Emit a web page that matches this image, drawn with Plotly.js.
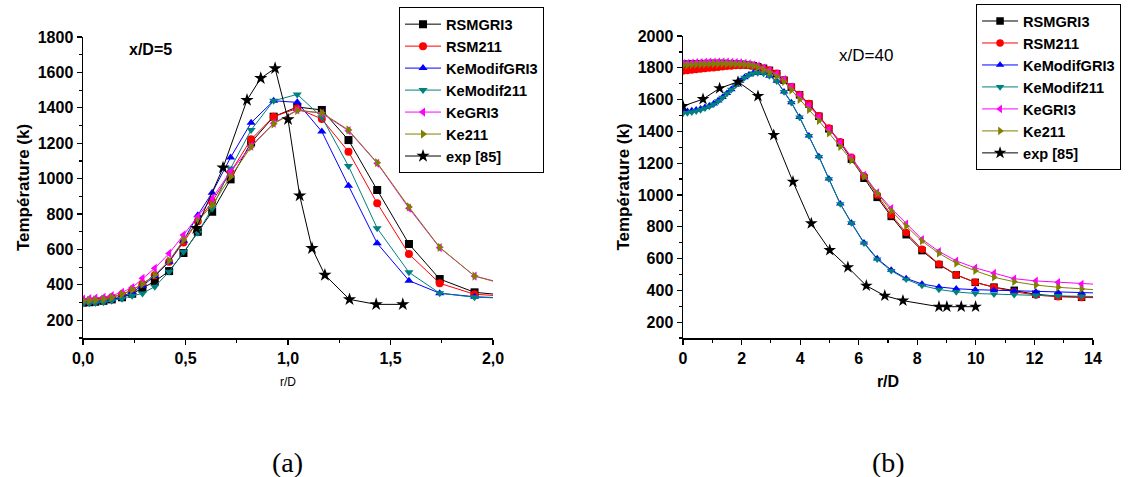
<!DOCTYPE html>
<html><head><meta charset="utf-8">
<script src="https://cdn.plot.ly/plotly-3.0.1.min.js"></script>
<style>body{margin:0;background:#fff}#chart{width:1131px;height:477px}</style>
</head><body><div id="chart"></div>
<script>
// ---------- data ----------
const seriesNames = ['RSMGRI3', 'RSM211', 'KeModifGRI3', 'KeModif211', 'KeGRI3', 'Ke211', 'exp [85]'];

// Panel (a): x/D = 5
const rA = [0, 0.03, 0.06, 0.10, 0.14, 0.19, 0.24, 0.29, 0.35, 0.42, 0.49, 0.56, 0.63, 0.72, 0.82, 0.93, 1.045, 1.165, 1.295, 1.435, 1.59, 1.74, 1.91, 2.08];
const a_RSMGRI3     = [300,302,305,310,318,330,350,380,420,478,580,700,813,996,1205,1350,1405,1388,1218,936,631,433,358,340];
const a_RSM211      = [305,307,310,317,328,345,370,405,455,530,640,760,870,1035,1222,1350,1397,1337,1152,861,574,409,347,335];
const a_KeModifGRI3 = [300,302,305,310,318,333,360,395,450,530,650,794,921,1120,1316,1440,1431,1266,960,635,424,353,333,325];
const a_KeModif211  = [295,296,298,302,310,322,338,352,390,474,587,695,832,1058,1275,1440,1476,1347,1071,720,471,353,330,325];
const a_KeGRI3      = [320,322,325,330,340,358,385,437,494,578,682,785,890,1040,1184,1313,1388,1369,1271,1087,833,610,450,400];
const a_Ke211       = [310,312,315,320,330,348,372,405,456,537,653,760,851,1011,1180,1310,1385,1372,1275,1090,840,612,450,395];
const rExpA = [0.553, 0.683, 0.80, 0.867, 0.937, 1.0, 1.057, 1.117, 1.18, 1.30, 1.43, 1.56];
const a_exp = [720, 1062, 1444, 1567, 1623, 1335, 904, 607, 456, 318, 290, 290];

// Panel (b): x/D = 40
const rB = [0, 0.15, 0.3, 0.45, 0.6, 0.75, 0.9, 1.05, 1.2, 1.35, 1.5, 1.65, 1.8, 1.95, 2.1, 2.25, 2.4, 2.55, 2.75, 2.95, 3.2, 3.45, 3.7, 3.98, 4.3, 4.64, 4.98, 5.37, 5.75, 6.18, 6.63, 7.11, 7.62, 8.16, 8.74, 9.33, 9.98, 10.62, 11.31, 12.05, 12.81, 13.61, 14.4];
const b_RSMGRI3     = [1822,1823,1824,1825,1826,1826,1827,1827,1827,1827,1826,1825,1824,1822,1820,1817,1813,1807,1797,1784,1763,1722,1678,1630,1572,1495,1416,1328,1225,1105,985,865,750,650,562,497,450,420,400,375,363,356,353];
const b_RSM211      = [1780,1783,1786,1789,1792,1795,1798,1801,1804,1807,1810,1812,1814,1815,1816,1815,1812,1806,1796,1784,1765,1723,1680,1632,1576,1498,1421,1335,1237,1119,1000,874,763,658,565,498,450,419,391,370,359,355,353];
const b_KeModifGRI3 = [1525,1527,1531,1536,1543,1552,1562,1575,1594,1615,1640,1665,1692,1717,1740,1757,1767,1770,1766,1750,1717,1650,1582,1490,1373,1242,1102,945,825,700,600,528,475,440,421,410,404,400,396,391,387,384,382];
const b_KeModif211  = [1513,1516,1521,1527,1535,1545,1556,1570,1590,1612,1637,1662,1690,1715,1738,1755,1765,1768,1764,1748,1715,1648,1580,1488,1371,1240,1100,943,823,696,595,523,469,430,405,390,380,375,372,368,365,362,360];
const b_KeGRI3      = [1828,1830,1832,1834,1835,1836,1837,1838,1838,1838,1837,1836,1835,1833,1830,1826,1820,1812,1800,1784,1762,1728,1682,1627,1562,1490,1412,1330,1235,1125,1015,916,819,721,645,585,541,508,473,459,450,440,435];
const b_Ke211       = [1815,1817,1819,1821,1822,1823,1824,1825,1825,1825,1825,1824,1823,1822,1820,1817,1812,1803,1788,1770,1745,1712,1660,1600,1536,1467,1388,1303,1218,1117,1010,900,804,710,633,570,523,482,454,433,419,408,400];
const rExpB = [0, 0.683, 1.25, 1.878, 2.56, 3.10, 3.755, 4.38, 5.01, 5.63, 6.26, 6.89, 7.51, 8.74, 9.01, 9.50, 9.99];
const b_exp = [1559, 1603, 1671, 1712, 1622, 1377, 1083, 821, 653, 545, 429, 366, 335, 297, 297, 297, 297];

// ---------- styles ----------
const colors  = ['#000000', '#ff0000', '#0000ff', '#008080', '#ff00ff', '#808000', '#000000'];
const symbols = ['square', 'circle', 'triangle-up', 'triangle-down', 'triangle-left', 'triangle-right', 'star'];

const FONT = 'Arial, "Liberation Sans", sans-serif';
const panelA = [[rA, a_RSMGRI3], [rA, a_RSM211], [rA, a_KeModifGRI3], [rA, a_KeModif211], [rA, a_KeGRI3], [rA, a_Ke211], [rExpA, a_exp]];
const panelB = [[rB, b_RSMGRI3], [rB, b_RSM211], [rB, b_KeModifGRI3], [rB, b_KeModif211], [rB, b_KeGRI3], [rB, b_Ke211], [rExpB, b_exp]];

const traces = [];
function addPanel(panel, xa, ya, leg, msize) {
  panel.forEach((p, i) => {
    traces.push({
      type: 'scatter', mode: 'lines+markers', x: p[0], y: p[1],
      name: seriesNames[i], xaxis: xa, yaxis: ya, legend: leg,
      line: {color: colors[i], width: 1},
      marker: {symbol: symbols[i], color: colors[i], size: i === 6 ? msize + 2 : msize,
               line: {width: 0}}
    });
  });
}
addPanel(panelA, 'x', 'y', 'legend', 8);
addPanel(panelB, 'x2', 'y2', 'legend2', 7.5);

const tickFont = {family: FONT, size: 16, color: '#000', weight: 'bold'};
function axisBase() {
  return {showline: true, linecolor: '#000', linewidth: 1.5, ticks: 'outside', ticklen: 5,
          tickwidth: 1.2, tickcolor: '#000', showgrid: false, zeroline: false,
          tickfont: tickFont, fixedrange: true};
}
const legendBase = {bordercolor: '#000', borderwidth: 1, bgcolor: '#fff',
  font: {family: FONT, size: 14.6, color: '#000', weight: 'bold'}, xanchor: 'left', yanchor: 'top',
  itemwidth: 36, tracegroupgap: 0};

const yTitleFont = {family: FONT, size: 17, color: '#000', weight: 'bold'};
const layout = {
  width: 1131, height: 477, margin: {l: 0, r: 0, t: 0, b: 0},
  paper_bgcolor: '#fff', plot_bgcolor: '#fff', separators: ', ', showlegend: true,
  xaxis: Object.assign(axisBase(), {domain: [0.0734, 0.4359], range: [0, 2], dtick: 0.5, tickformat: '.1f',
    minor: {ticks: 'outside', ticklen: 3, dtick: 0.25, tickcolor: '#000'},
    title: {text: 'r/D', font: {family: FONT, size: 12, color: '#000'}, standoff: 12}}),
  yaxis: Object.assign(axisBase(), {domain: [0.2914, 0.9224], range: [100, 1800], dtick: 200,
    minor: {ticks: 'outside', ticklen: 3, dtick: 100, tickcolor: '#000'},
    title: {text: 'Température (k)', font: yTitleFont, standoff: 4}}),
  xaxis2: Object.assign(axisBase(), {domain: [0.6039, 0.9664], range: [0, 14], dtick: 2, anchor: 'y2',
    minor: {ticks: 'outside', ticklen: 3, dtick: 1, tickcolor: '#000'},
    title: {text: 'r/D', font: {family: FONT, size: 16, color: '#000', weight: 'bold'}, standoff: 10}}),
  yaxis2: Object.assign(axisBase(), {domain: [0.2914, 0.9245], range: [100, 2000], dtick: 200, anchor: 'x2',
    minor: {ticks: 'outside', ticklen: 3, dtick: 100, tickcolor: '#000'},
    title: {text: 'Température (k)', font: yTitleFont, standoff: 4}}),
  legend: Object.assign({}, legendBase, {x: 0.3528, y: 0.985}),
  legend2: Object.assign({}, legendBase, {x: 0.863, y: 0.9916}),
  annotations: [
    {text: 'x/D=5', xref: 'paper', yref: 'paper', x: 150 / 1131, y: 1 - 49 / 477, xanchor: 'center', yanchor: 'middle',
     showarrow: false, font: {family: FONT, size: 16, color: '#000', weight: 'bold'}},
    {text: 'x/D=40', xref: 'paper', yref: 'paper', x: 866 / 1131, y: 1 - 55 / 477, xanchor: 'center', yanchor: 'middle',
     showarrow: false, font: {family: FONT, size: 17, color: '#000'}},
    {text: '(a)', xref: 'paper', yref: 'paper', x: 287 / 1131, y: 1 - 462 / 477, xanchor: 'center', yanchor: 'middle',
     showarrow: false, font: {family: '"Liberation Serif", "Times New Roman", serif', size: 28, color: '#000'}},
    {text: '(b)', xref: 'paper', yref: 'paper', x: 888 / 1131, y: 1 - 462 / 477, xanchor: 'center', yanchor: 'middle',
     showarrow: false, font: {family: '"Liberation Serif", "Times New Roman", serif', size: 28, color: '#000'}}
  ]
};

Plotly.newPlot('chart', traces, layout, {displayModeBar: false, staticPlot: true});
</script></body></html>
